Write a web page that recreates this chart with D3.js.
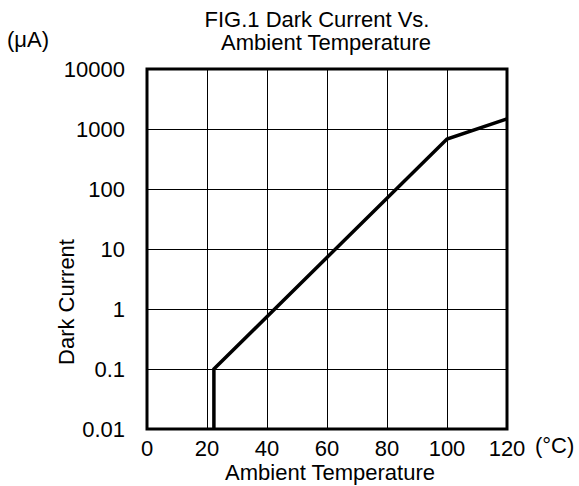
<!DOCTYPE html>
<html>
<head>
  <meta charset="utf-8" />
  <title>Dark Current vs Ambient Temperature</title>
  <script src="https://d3js.org/d3.v7.min.js"></script>
  <style>
    body { margin: 0; background: #fff; }
    svg { display: block; }
    text { font-family: "Liberation Sans", Arial, sans-serif; font-size: 22px; fill: #000; }
    .grid line { stroke: #000; stroke-width: 1; shape-rendering: crispEdges; }
    .grid path { display: none; }
  </style>
</head>
<body>
  <svg width="579" height="486"></svg>
  <script>
    // data
    const tempC = [22.3, 22.3, 100, 120];
    const darkCurrent = [0.01, 0.1, 680, 1470];
    const xTicks = [0, 20, 40, 60, 80, 100, 120];
    const yTicks = [0.01, 0.1, 1, 10, 100, 1000, 10000];
    const yTickLabels = ["0.01", "0.1", "1", "10", "100", "1000", "10000"];

    const svg = d3.select("svg");
    const margin = { top: 69, left: 147 };
    const width = 360, height = 360;

    const x = d3.scaleLinear().domain([0, 120]).range([0, width]);
    const y = d3.scaleLog().domain([0.01, 10000]).range([height, 0]);

    const g = svg.append("g").attr("transform", `translate(${margin.left},${margin.top})`);

    // grid
    g.append("g").attr("class", "grid")
      .call(d3.axisLeft(y).tickValues(yTicks).tickSize(-width).tickFormat(""));
    g.append("g").attr("class", "grid")
      .attr("transform", `translate(0,${height})`)
      .call(d3.axisBottom(x).tickValues(xTicks).tickSize(-height).tickFormat(""));

    // frame
    g.append("rect")
      .attr("width", width).attr("height", height)
      .attr("fill", "none").attr("stroke", "#000").attr("stroke-width", 3);

    // curve
    const line = d3.line().x(d => x(d[0])).y(d => y(d[1]));
    g.append("path")
      .datum(tempC.map((t, i) => [t, darkCurrent[i]]))
      .attr("d", line)
      .attr("fill", "none")
      .attr("stroke", "#000")
      .attr("stroke-width", 3.5)
      .attr("stroke-linejoin", "miter");

    function label(px, py, str, anchor, rotate) {
      const rot = rotate ? ` rotate(${rotate})` : "";
      return svg.append("text")
        .attr("transform", `translate(${px},${py})${rot}`)
        .attr("text-anchor", anchor || "middle")
        .text(str);
    }

    // y tick labels
    yTicks.forEach((v, i) => {
      label(margin.left - 22, margin.top + y(v), yTickLabels[i], "end").attr("dy", "0.35em");
    });

    // x tick labels
    xTicks.forEach(v => {
      label(margin.left + x(v), 456, String(v), "middle");
    });
    label(535, 453, "(°C)", "start");

    // titles
    label(317, 27, "FIG.1 Dark Current Vs.");
    label(326, 50, "Ambient Temperature");
    label(7, 47, "(μA)", "start");
    label(330, 480, "Ambient Temperature");
    label(74, 302, "Dark Current", "middle", -90);
  </script>
</body>
</html>
